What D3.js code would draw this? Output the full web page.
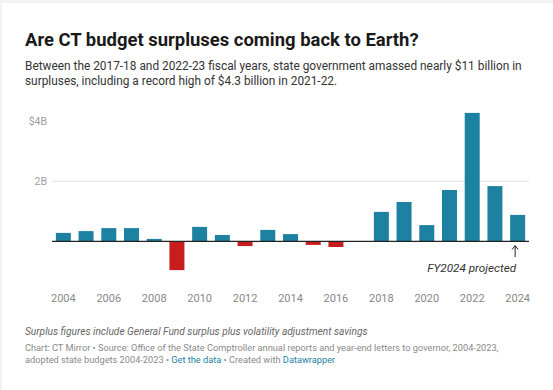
<!DOCTYPE html>
<html>
<head>
<meta charset="utf-8">
<script src="https://cdn.jsdelivr.net/npm/d3@7"></script>
<style>
  html, body { margin: 0; padding: 0; background: #fff; }
  svg { display: block; font-family: Roboto, "Noto Sans", sans-serif; }
</style>
</head>
<body>
<div id="chart"></div>
<script>
// data (billions of dollars, fiscal year end)
var years = [2004, 2005, 2006, 2007, 2008, 2009, 2010, 2011, 2012, 2013, 2014,
             2015, 2016, 2017, 2018, 2019, 2020, 2021, 2022, 2023, 2024];
var surplus = [0.28, 0.34, 0.44, 0.44, 0.08, -0.96, 0.48, 0.21, -0.16, 0.38, 0.24,
               -0.12, -0.19, 0, 0.98, 1.31, 0.54, 1.71, 4.28, 1.84, 0.88];
var xTickYears = [2004, 2006, 2008, 2010, 2012, 2014, 2016, 2018, 2020, 2022, 2024];
var yTicks = [2, 4];
var yTickLabels = ["2B", "$4B"];

var svgWidth = 553;
var svgHeight = 390;

// scale a text's font size so a line spans the width seen in the reference
function fitWidth(textSel, lineNode, target) {
  var w = lineNode.getComputedTextLength();
  var fs = parseFloat(textSel.attr("font-size"));
  if (w > 0) textSel.attr("font-size", (fs * target / w).toFixed(2) + "px");
}

var svg = d3.select("#chart")
  .append("svg")
  .attr("width", svgWidth)
  .attr("height", svgHeight);

// grey frame edge top/left
svg.append("rect").attr("width", svgWidth).attr("height", svgHeight).attr("fill", "#f2f2f2");
svg.append("rect").attr("x", 2).attr("y", 3).attr("width", svgWidth).attr("height", svgHeight).attr("fill", "#fff");

// header
var title = svg.append("text")
  .attr("x", 25).attr("y", 46)
  .attr("font-size", "18px").attr("font-weight", "bold").attr("fill", "#1a1a1a")
  .text("Are CT budget surpluses coming back to Earth?");
fitWidth(title, title.node(), 394);

var sub = svg.append("text")
  .attr("x", 25).attr("y", 70)
  .attr("font-size", "12px").attr("fill", "#333");
var sub1 = sub.append("tspan").attr("x", 25).attr("dy", 0)
  .text("Between the 2017-18 and 2022-23 fiscal years, state government amassed nearly $11 billion in");
sub.append("tspan").attr("x", 25).attr("dy", 14.5)
  .text("surpluses, including a record high of $4.3 billion in 2021-22.");
fitWidth(sub, sub1.node(), 497);

// scales
var xScale = d3.scaleBand()
  .domain(years)
  .range([52, 529])
  .paddingInner(0.34)
  .paddingOuter(0.17);

var yScale = d3.scaleLinear()
  .domain([0, 4])
  .range([241.3, 121.3]);

// gridlines + y labels
var yAxis = svg.append("g");
yAxis.selectAll("line.grid")
  .data(yTicks.filter(d => d < 4))
  .enter()
  .append("line")
  .attr("class", "grid")
  .attr("x1", 52).attr("x2", 529)
  .attr("y1", d => yScale(d)).attr("y2", d => yScale(d))
  .attr("stroke", "#e3e3e3").attr("stroke-width", 1);

yAxis.selectAll("text")
  .data(yTicks)
  .enter()
  .append("text")
  .attr("x", 47)
  .attr("y", d => yScale(d))
  .attr("dy", "0.35em")
  .attr("text-anchor", "end")
  .attr("font-size", "10.5px")
  .attr("fill", "#a0a0a0")
  .text((d, i) => yTickLabels[i]);

// bars
svg.append("g").selectAll("rect")
  .data(years)
  .enter()
  .append("rect")
  .attr("x", d => xScale(d))
  .attr("width", xScale.bandwidth())
  .attr("y", (d, i) => yScale(Math.max(0, surplus[i])))
  .attr("height", (d, i) => Math.abs(yScale(surplus[i]) - yScale(0)))
  .attr("fill", (d, i) => surplus[i] < 0 ? "#c71e1d" : "#1d81a2");

// zero baseline
svg.append("line")
  .attr("x1", 52).attr("x2", 529)
  .attr("y1", yScale(0)).attr("y2", yScale(0))
  .attr("stroke", "#222").attr("stroke-width", 1.3);

// x axis labels
svg.append("g").selectAll("text")
  .data(xTickYears)
  .enter()
  .append("text")
  .attr("x", d => xScale(d) + xScale.bandwidth() / 2)
  .attr("y", 302)
  .attr("text-anchor", "middle")
  .attr("font-size", "11px")
  .attr("fill", "#888")
  .text(d => d);

// annotation
var ax = xScale(2024) + xScale.bandwidth() / 2 - 2.5;
var ann = svg.append("g");
ann.append("line")
  .attr("x1", ax).attr("x2", ax)
  .attr("y1", 246).attr("y2", 257)
  .attr("stroke", "#222").attr("stroke-width", 1);
ann.append("path")
  .attr("d", `M${ax - 3},${249.5} L${ax},${245.5} L${ax + 3},${249.5}`)
  .attr("fill", "none").attr("stroke", "#222").attr("stroke-width", 1);
var fy = ann.append("text")
  .attr("x", ax + 1).attr("y", 272)
  .attr("text-anchor", "end")
  .attr("font-size", "12px").attr("font-style", "italic").attr("fill", "#333")
  .text("FY2024 projected");
fitWidth(fy, fy.node(), 89);

// footer
var note = svg.append("text")
  .attr("x", 25).attr("y", 335)
  .attr("font-size", "10px").attr("font-style", "italic").attr("fill", "#666")
  .text("Surplus figures include General Fund surplus plus volatility adjustment savings");
fitWidth(note, note.node(), 343);

var src = svg.append("text")
  .attr("x", 25).attr("y", 351)
  .attr("font-size", "10px").attr("fill", "#8a8a8a");
var src1 = src.append("tspan").attr("x", 25)
  .text("Chart: CT Mirror \u2022 Source: Office of the State Comptroller annual reports and year-end letters to governor, 2004-2023,");
var l2 = src.append("tspan").attr("x", 25).attr("dy", 11.5);
l2.append("tspan").text("adopted state budgets 2004-2023 \u2022 ");
l2.append("tspan").attr("fill", "#1d81a2").text("Get the data");
l2.append("tspan").text(" \u2022 Created with ");
l2.append("tspan").attr("fill", "#1d81a2").text("Datawrapper");
fitWidth(src, src1.node(), 474);
</script>
</body>
</html>
